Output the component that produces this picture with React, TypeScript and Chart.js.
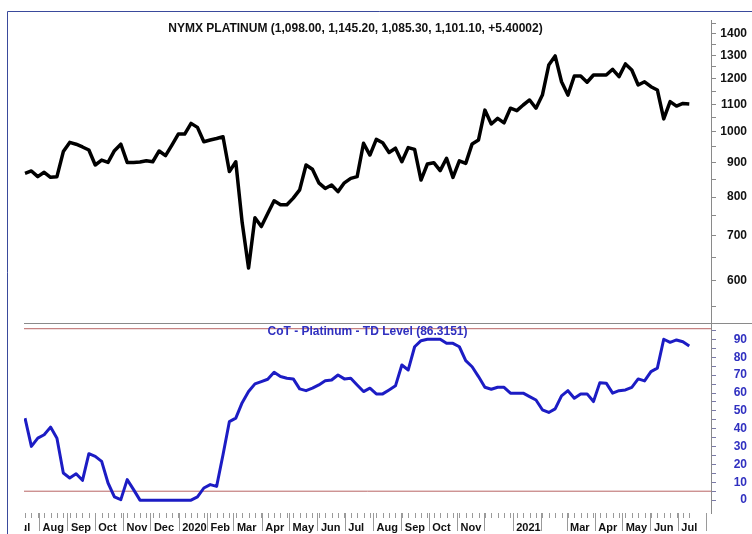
import React, { useEffect, useRef } from "react";
import { Chart, registerables } from "chart.js";

Chart.register(...registerables);

// ---- data ----
const FIRST_WEEK = "2019-07-16";

const platinumClose = [
  868, 875, 858, 871, 856, 858, 935, 965, 959, 950,
  940, 893, 908, 901, 938, 959, 901, 901, 902, 906,
  903, 937, 922, 956, 993, 993, 1030, 1016, 967, 973,
  978, 984, 873, 903, 733, 627, 745, 723, 756, 790,
  779, 779, 797, 820, 893, 880, 840, 824, 834, 815,
  840, 853, 858, 962, 924, 975, 964, 932, 946, 903,
  948, 942, 848, 896, 900, 876, 914, 856, 906, 898,
  960, 973, 1078, 1028, 1048, 1032, 1085, 1076, 1097, 1116,
  1085, 1135, 1258, 1298, 1188, 1135, 1212, 1212, 1186, 1216,
  1216, 1216, 1240, 1209, 1263, 1237, 1175, 1188, 1168, 1155,
  1046, 1110, 1093, 1103, 1101.1,
];

const cotTdLevel = [
  45.9, 30.1, 34.7, 36.6, 40.9, 34.7, 15.2, 12.4, 14.8, 11.1,
  26.0, 24.5, 21.7, 9.6, 1.8, 0.3, 11.5, 5.9, 0, 0,
  0, 0, 0, 0, 0, 0, 0, 1.8, 6.8, 8.7,
  7.7, 25.4, 44.0, 45.9, 54.6, 60.8, 65.1, 66.4, 67.7, 71.6,
  69.2, 68.3, 67.9, 62.3, 61.3, 62.7, 64.5, 66.8, 67.3, 70.1,
  67.9, 68.3, 64.5, 60.8, 62.7, 59.5, 59.5, 61.7, 64.0, 75.7,
  72.9, 85.9, 89.3, 90.1, 90.1, 90.1, 87.8, 87.8, 85.9, 78.1,
  74.7, 69.2, 63.2, 62.1, 63.2, 63.2, 59.9, 59.9, 59.9, 58.0,
  56.1, 50.6, 49.1, 51.1, 58.4, 61.3, 57.1, 59.5, 59.5, 55.2,
  65.8, 65.5, 59.9, 61.3, 61.7, 63.2, 67.9, 66.8, 72.0, 73.9,
  90.1, 88.4, 89.7, 88.7, 86.3151,
];

const overboughtLevel = 96;
const oversoldLevel = 5;

const priceTicks = [550, 600, 650, 700, 750, 800, 850, 900, 950, 1000, 1050, 1100, 1150, 1200, 1250, 1300, 1350, 1400, 1450];
const priceLabelTicks = [600, 700, 800, 900, 1000, 1100, 1200, 1300, 1400];
const cotTicks = [0, 5, 10, 15, 20, 25, 30, 35, 40, 45, 50, 55, 60, 65, 70, 75, 80, 85, 90, 95];
const cotLabelTicks = [0, 10, 20, 30, 40, 50, 60, 70, 80, 90];

const monthStarts = [
  "2019-07-01", "2019-08-01", "2019-09-01", "2019-10-01", "2019-11-01", "2019-12-01",
  "2020-01-01", "2020-02-01", "2020-03-01", "2020-04-01", "2020-05-01", "2020-06-01",
  "2020-07-01", "2020-08-01", "2020-09-01", "2020-10-01", "2020-11-01", "2020-12-01",
  "2021-01-01", "2021-02-01", "2021-03-01", "2021-04-01", "2021-05-01", "2021-06-01",
  "2021-07-01", "2021-08-01",
];
const monthLabels = [
  "Jul", "Aug", "Sep", "Oct", "Nov", "Dec",
  "2020", "Feb", "Mar", "Apr", "May", "Jun",
  "Jul", "Aug", "Sep", "Oct", "Nov", "",
  "2021", "", "Mar", "Apr", "May", "Jun",
  "Jul", "",
];

const priceTitle = "NYMX PLATINUM (1,098.00, 1,145.20, 1,085.30, 1,101.10, +5.40002)";
const cotTitle = "CoT - Platinum - TD Level (86.3151)";

// ---- helpers ----
const DAY = 86400000;
const dayOf = (s: string) => (Date.parse(s) - Date.parse(FIRST_WEEK)) / DAY;
const weekDay = (i: number) => i * 7;
const X_MIN = -1.1;
const X_MAX = 751.8;

const FONT = "'Liberation Sans', Arial, Helvetica, sans-serif";
const COT_BLUE = "#1c1cc4";
const LABEL_BLUE = "#3030c0";

const noPad = (s: any) => {
  s.paddingTop = 0;
  s.paddingBottom = 0;
  s.paddingLeft = 0;
  s.paddingRight = 0;
};

const decorPlugin = {
  id: "decor",
  beforeDraw(chart: any) {
    const ctx = chart.ctx;
    ctx.save();
    ctx.beginPath();
    ctx.rect(chart.chartArea.left, 0, chart.width - chart.chartArea.left, chart.height);
    ctx.clip();
  },
  afterDraw(chart: any) {
    const ctx = chart.ctx;
    const { left, right, top, bottom } = chart.chartArea;
    const xs = chart.scales.x;
    const yC = chart.scales.yC;
    // weekly minor ticks
    ctx.strokeStyle = "#9a9a9a";
    ctx.lineWidth = 1;
    ctx.beginPath();
    for (let i = 0; i < platinumClose.length; i++) {
      const px = Math.round(xs.getPixelForValue(weekDay(i))) + 0.5;
      ctx.moveTo(px, bottom);
      ctx.lineTo(px, bottom + 5);
    }
    ctx.stroke();
    // separator line
    ctx.strokeStyle = "#8a8a8a";
    ctx.beginPath();
    const sy = Math.round(yC.top) + 0.5;
    ctx.moveTo(left, sy);
    ctx.lineTo(chart.width, sy);
    ctx.stroke();
    // titles
    ctx.textBaseline = "middle";
    ctx.textAlign = "center";
    ctx.font = `bold 12px ${FONT}`;
    ctx.fillStyle = "#111";
    ctx.fillText(priceTitle, right / 2, top + 8.5);
    ctx.fillStyle = LABEL_BLUE;
    ctx.fillText(cotTitle, (left + right) / 2, yC.top + 8.5);
    ctx.restore();
    // outer frame
    ctx.save();
    ctx.strokeStyle = "#3a4a9c";
    ctx.lineWidth = 1;
    ctx.beginPath();
    ctx.moveTo(7.5, chart.height);
    ctx.lineTo(7.5, 11.5);
    ctx.lineTo(chart.width, 11.5);
    ctx.stroke();
    ctx.restore();
  },
};

export default function App() {
  const ref = useRef<HTMLCanvasElement | null>(null);

  useEffect(() => {
    if (!ref.current) return;
    const chart = new Chart(ref.current, {
      type: "line",
      data: {
        datasets: [
          {
            label: "NYMX Platinum",
            data: platinumClose.map((v, i) => ({ x: weekDay(i), y: v })),
            yAxisID: "yP",
            borderColor: "#000",
            borderWidth: 3.5,
            borderJoinStyle: "round",
            pointRadius: 0,
            tension: 0,
          },
          {
            label: "CoT - Platinum - TD Level",
            data: cotTdLevel.map((v, i) => ({ x: weekDay(i), y: v })),
            yAxisID: "yC",
            borderColor: COT_BLUE,
            borderWidth: 3,
            borderJoinStyle: "round",
            pointRadius: 0,
            tension: 0,
          },
          {
            label: "Overbought",
            data: [{ x: X_MIN, y: overboughtLevel }, { x: X_MAX, y: overboughtLevel }],
            yAxisID: "yC",
            borderColor: "#b86464",
            borderWidth: 1,
            pointRadius: 0,
          },
          {
            label: "Oversold",
            data: [{ x: X_MIN, y: oversoldLevel }, { x: X_MAX, y: oversoldLevel }],
            yAxisID: "yC",
            borderColor: "#b86464",
            borderWidth: 1,
            pointRadius: 0,
          },
        ],
      },
      options: {
        animation: false,
        responsive: false,
        maintainAspectRatio: false,
        layout: { padding: { left: 24, top: 20, right: 5, bottom: 0 } },
        plugins: {
          legend: { display: false },
          tooltip: { enabled: false },
          title: { display: false },
        },
        scales: {
          x: {
            type: "linear",
            position: "bottom",
            min: X_MIN,
            max: X_MAX,
            afterBuildTicks: (s: any) => {
              s.ticks = monthStarts.map((d) => ({ value: dayOf(d) }));
            },
            afterFit: (s: any) => {
              s.height = 21;
              noPad(s);
            },
            ticks: {
              autoSkip: false,
              maxRotation: 0,
              minRotation: 0,
              align: "start",
              labelOffset: 3,
              padding: -10,
              color: "#111",
              font: { family: FONT, size: 11, weight: "bold" },
              callback: (_v: any, i: number) => monthLabels[i],
            },
            grid: {
              drawOnChartArea: false,
              drawTicks: true,
              tickLength: 18,
              tickColor: "#9a9a9a",
            },
            border: { display: false },
          },
          yP: {
            type: "logarithmic",
            position: "right",
            stack: "panels",
            stackWeight: 303,
            min: 519.4,
            max: 1468.3,
            afterBuildTicks: (s: any) => {
              s.ticks = priceTicks.map((v) => ({ value: v }));
            },
            afterFit: (s: any) => {
              s.width = 36;
              noPad(s);
            },
            ticks: {
              autoSkip: false,
              crossAlign: "far",
              padding: 3,
              color: "#111",
              font: { family: FONT, size: 12, weight: "bold" },
              callback: (v: any) => (priceLabelTicks.includes(Number(v)) ? String(v) : ""),
            },
            grid: { drawOnChartArea: false, tickLength: 5, tickColor: "#8a8a8a" },
            border: { color: "#8a8a8a", width: 1 },
          },
          yC: {
            type: "linear",
            position: "right",
            stack: "panels",
            stackWeight: 190,
            min: -7.2,
            max: 99.2,
            afterBuildTicks: (s: any) => {
              s.ticks = cotTicks.map((v) => ({ value: v }));
            },
            afterFit: (s: any) => {
              s.width = 36;
              noPad(s);
            },
            ticks: {
              autoSkip: false,
              crossAlign: "far",
              padding: 14,
              color: LABEL_BLUE,
              font: { family: FONT, size: 12, weight: "bold" },
              callback: (v: any) => (cotLabelTicks.includes(Number(v)) ? String(v) : ""),
            },
            grid: { drawOnChartArea: false, tickLength: 5, tickColor: "#7a7aa8" },
            border: { color: "#8a8a8a", width: 1 },
          },
        },
      } as any,
      plugins: [decorPlugin],
    });
    return () => chart.destroy();
  }, []);

  return (
    <div style={{ position: "fixed", left: 0, top: 0, width: 752, height: 534, background: "#fff" }}>
      <canvas ref={ref} width={752} height={534} style={{ display: "block", width: 752, height: 534 }} />
    </div>
  );
}
